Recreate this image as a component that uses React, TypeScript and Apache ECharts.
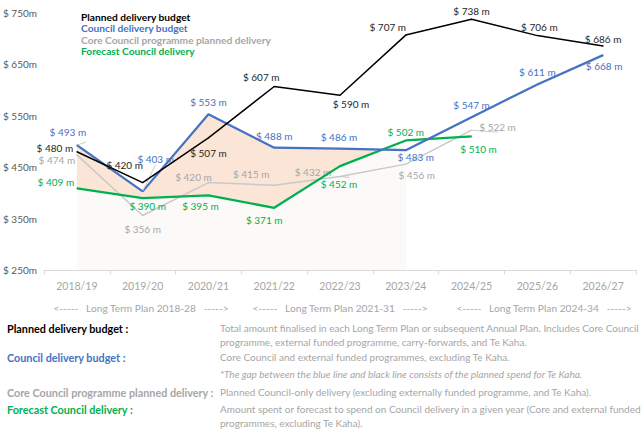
import React, { useEffect, useRef } from "react";
import * as echarts from "echarts";

// Financial years on the x axis
const categories = [
  "2018/19", "2019/20", "2020/21", "2021/22", "2022/23",
  "2023/24", "2024/25", "2025/26", "2026/27",
];

// $ millions
const plannedBudget = [480, 420, 507, 607, 590, 707, 738, 706, 686];
const councilBudget = [493, 403, 553, 488, 486, 483, 547, 611, 668];
const corePlanned = [474, 356, 420, 415, 432, 456, 522];
const forecastDelivery = [409, 390, 395, 371, 452, 502, 510];

// shaded band covers 2018/19 .. 2023/24
const shadedCount = 6;

const seriesNames = [
  "Planned delivery budget",
  "Council delivery budget",
  "Core Council programme planned delivery",
  "Forecast Council delivery",
];

const planPeriods = [
  "<-----   Long Term Plan 2018-28   ----->",
  "<-----   Long Term Plan 2021-31   ----->",
  "<-----   Long Term Plan 2024-34   ----->",
];

const termLabels = [
  "Planned delivery budget :",
  "Council delivery budget :",
  "Core Council programme planned delivery :",
  "Forecast Council delivery :",
];

const descriptionLines = [
  "Total amount finalised in each Long Term Plan or subsequent Annual Plan. Includes Core Council",
  "programme, external funded programme, carry-forwards, and Te Kaha.",
  "Core Council and external funded programmes, excluding Te Kaha.",
  "*The gap between the blue line and black line consists of the planned spend for Te Kaha.",
  "Planned Council-only delivery (excluding externally funded programme, and Te Kaha).",
  "Amount spent or forecast to spend on Council delivery in a given year (Core and external funded",
  "programmes, excluding Te Kaha).",
];

// colours
const BLACK = "#000000";
const BLUE = "#4472C4";
const GREY_LINE = "#C9C9C9";
const GREY_TEXT = "#A6A6A6";
const GREEN = "#00B050";
const FONT = "Lato, sans-serif";

// label offsets (label centre minus point), px
const plannedOffsets = [[-22, -4], [-18, -18], [0, 15], [-13, -10], [11, 9], [-18, -8], [0, -8], [2, -9], [0, -7]];
const councilOffsets = [[-9, -13], [13, -32], [0, -12], [0, -12], [-1, -12], [10, 7], [0, -12], [0, -12], [1, 11]];
const coreOffsets = [[-20, 5], [0, 13], [-15, -6], [-23, -11], [-27, -4], [11, 11], [26, -3]];
const forecastOffsets = [[-21, -6], [5, 8], [-8, 11], [-10, 12], [-1, 18], [0, -8], [7, 13]];

// points whose labels get a thin leader line
const councilLeaders = [0, 1];
const coreLeaders = [4, 6];

const termY = [328, 357, 392, 409];
const termColors = [BLACK, BLUE, GREY_TEXT, GREEN];
const descY = [328, 342, 357, 374, 392, 409, 423];

function lineSeries(
  name: string,
  values: number[],
  color: string,
  width: number,
  labelColor: string,
  offsets: number[][],
  z: number,
  leaders: number[] = []
) {
  return {
    name,
    type: "line",
    data: values.map((v, i) => ({
      value: v,
      label: { offset: offsets[i] },
      labelLine: leaders.includes(i)
        ? { show: true, length2: 0, lineStyle: { color: "#BFBFBF", width: 0.8 } }
        : { show: false },
    })),
    symbol: "circle",
    symbolSize: 1,
    itemStyle: { color },
    lineStyle: { color, width },
    z,
    label: {
      show: true,
      position: "inside",
      formatter: (p: any) => `$ ${p.value} m`,
      color: labelColor,
      fontFamily: FONT,
      fontSize: 10,
    },
    emphasis: { disabled: true },
  };
}

function bandSeries(values: number[], color: string, z: number) {
  return {
    type: "line",
    data: values.slice(0, shadedCount),
    symbol: "none",
    lineStyle: { width: 0 },
    areaStyle: { color, opacity: 1, origin: "start" },
    z,
    silent: true,
    emphasis: { disabled: true },
  };
}

export default function App() {
  const chartRef = useRef<HTMLDivElement>(null);

  useEffect(() => {
    document.body.style.margin = "0";
    if (!chartRef.current) return;
    const chart = echarts.init(chartRef.current, undefined, { renderer: "svg" });

    const graphics: any[] = [];
    const planCentres = [141, 340, 544];
    planPeriods.forEach((t, i) =>
      graphics.push({
        type: "text",
        x: planCentres[i],
        y: 308,
        style: {
          text: t, fill: GREY_TEXT, fontFamily: FONT, fontSize: 10.2,
          align: "center", verticalAlign: "middle",
        },
      })
    );
    termLabels.forEach((t, i) =>
      graphics.push({
        type: "text",
        x: 7,
        y: termY[i],
        style: {
          text: t, fill: termColors[i], fontFamily: FONT, fontSize: 10.8,
          fontWeight: "bold", align: "left", verticalAlign: "middle",
        },
      })
    );
    descriptionLines.forEach((t, i) =>
      graphics.push({
        type: "text",
        x: 220,
        y: descY[i],
        style: {
          text: t, fill: GREY_TEXT, fontFamily: FONT, fontSize: 10,
          fontStyle: i === 3 ? "italic" : "normal",
          align: "left", verticalAlign: "middle",
        },
      })
    );

    const option: any = {
      animation: false,
      backgroundColor: "#ffffff",
      textStyle: { fontFamily: FONT },
      grid: { left: 43, right: 7, top: 13, bottom: 161, containLabel: false },
      legend: {
        orient: "vertical",
        left: 76,
        top: 11,
        padding: 0,
        icon: "none",
        itemWidth: 0,
        itemHeight: 12.4,
        itemGap: 0,
        selectedMode: false,
        textStyle: { fontFamily: FONT, fontWeight: "bold", fontSize: 10.2 },
        data: [
          { name: seriesNames[0], textStyle: { color: BLACK } },
          { name: seriesNames[1], textStyle: { color: BLUE } },
          { name: seriesNames[2], textStyle: { color: GREY_TEXT } },
          { name: seriesNames[3], textStyle: { color: GREEN } },
        ],
      },
      xAxis: {
        type: "category",
        data: categories,
        boundaryGap: true,
        axisLine: { lineStyle: { color: "#D9D9D9", width: 1 } },
        axisTick: { show: true, length: 4, lineStyle: { color: "#D9D9D9" } },
        axisLabel: { color: GREY_TEXT, fontFamily: FONT, fontSize: 10.5, margin: 10 },
      },
      yAxis: {
        type: "value",
        min: 250,
        max: 750,
        interval: 100,
        splitLine: { show: false },
        axisLine: { show: false },
        axisTick: { show: false },
        axisLabel: {
          color: "#595959",
          fontFamily: FONT,
          fontSize: 10,
          margin: 7,
          formatter: (v: number) => `$ ${v}m`,
        },
      },
      graphic: graphics,
      series: [
        bandSeries(councilBudget, "#FBE5D6", 1),
        bandSeries(forecastDelivery, "#FCFAF8", 2),
        lineSeries(seriesNames[2], corePlanned, GREY_LINE, 1.5, GREY_TEXT, coreOffsets, 3, coreLeaders),
        lineSeries(seriesNames[3], forecastDelivery, GREEN, 2.25, GREEN, forecastOffsets, 4),
        lineSeries(seriesNames[1], councilBudget, BLUE, 2.25, BLUE, councilOffsets, 5, councilLeaders),
        lineSeries(seriesNames[0], plannedBudget, BLACK, 1.5, "#262626", plannedOffsets, 6),
      ],
    };

    chart.setOption(option);
    return () => chart.dispose();
  }, []);

  return <div ref={chartRef} style={{ width: 643, height: 431 }} />;
}
